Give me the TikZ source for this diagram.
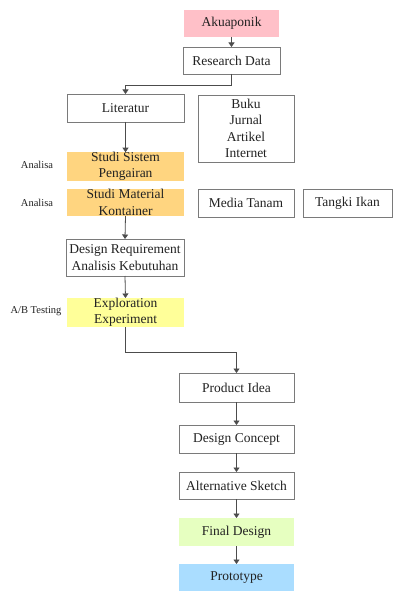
\documentclass[tikz,border=0pt]{standalone}
\usepackage{fontspec}
\setmainfont{Liberation Serif}
\usetikzlibrary{arrows.meta}
\definecolor{cpink}{HTML}{FFC0C8}
\definecolor{corange}{HTML}{FFD580}
\definecolor{cyellow}{HTML}{FFFF99}
\definecolor{cgreen}{HTML}{E6FFC0}
\definecolor{cblue}{HTML}{AADDFF}
\definecolor{cborder}{HTML}{7A7A7A}
\definecolor{ctext}{HTML}{222222}
\begin{document}
\begin{tikzpicture}[x=1pt,y=-1pt,
  base/.style={inner sep=0pt, outer sep=0pt, align=center, text=ctext,
    font=\fontsize{13.5}{16.3}\selectfont},
  wbox/.style={base, draw=cborder, line width=0.9pt, fill=white},
  fbox/.style={base, draw=none},
  lbl/.style={inner sep=0pt, text=ctext, font=\fontsize{10.5}{12}\selectfont},
  arr/.style={draw=black!70, line width=0.8pt, -{Triangle[length=4.5pt,width=6pt]}}
]
\useasboundingbox (0,0) rectangle (393,591);
\fill[white] (0,0) rectangle (393,591);

\node[fbox, fill=cpink, minimum width=95pt, minimum height=27pt] (ak) at (231.5,23.5) {Akuaponik};
\node[wbox, minimum width=97pt, minimum height=27pt] (rd) at (231.5,60.5) {Research Data};
\node[wbox, minimum width=117pt, minimum height=28pt] (lit) at (125.5,108) {Literatur};
\node[wbox, minimum width=96pt, minimum height=67pt] (buku) at (246,128.5) {Buku\\Jurnal\\Artikel\\Internet};
\node[fbox, fill=corange, minimum width=117pt, minimum height=27pt] (ssp) at (125.5,166.5) {Studi Sistem\\Pengairan};
\node[fbox, fill=corange, minimum width=117pt, minimum height=27pt] (smk) at (125.5,202.5) {Studi Material\\Kontainer};
\node[wbox, minimum width=96pt, minimum height=28pt] (mt) at (246,203) {Media Tanam};
\node[wbox, minimum width=89pt, minimum height=28pt] (ti) at (347.5,203) {Tangki Ikan};
\node[wbox, minimum width=118pt, minimum height=37pt] (dr) at (125,257.5) {Design Requirement\\Analisis Kebutuhan};
\node[fbox, fill=cyellow, minimum width=117pt, minimum height=29pt] (ee) at (125.5,312.5) {Exploration\\Experiment};
\node[wbox, minimum width=115pt, minimum height=29pt] (pi) at (236.5,387.5) {Product Idea};
\node[wbox, minimum width=115pt, minimum height=28pt] (dc) at (236.5,439) {Design Concept};
\node[wbox, minimum width=115pt, minimum height=27pt] (as) at (236.5,485.5) {Alternative Sketch};
\node[fbox, fill=cgreen, minimum width=115pt, minimum height=28pt] (fd) at (236.5,532) {Final Design};
\node[fbox, fill=cblue, minimum width=115pt, minimum height=27pt] (pr) at (236.5,577.5) {Prototype};

\node[lbl] (l1) at (37,165) {Analisa};
\node[lbl] (l2) at (37,203) {Analisa};
\node[lbl] (l3) at (36,311) {A/B Testing};

\draw[arr] (ak.south) -- (rd.north);
\draw[arr] (rd.south) -- ++(0,11) -| (lit.north);
\draw[arr] (lit.south) -- (ssp.north);
\draw[arr] (smk.south) -- (dr.north);
\draw[arr] (dr.south) -- (ee.north);
\draw[arr] (ee.south) -- ++(0,25) -| (pi.north);
\draw[arr] (pi.south) -- (dc.north);
\draw[arr] (dc.south) -- (as.north);
\draw[arr] (as.south) -- (fd.north);
\draw[arr] (fd.south) -- (pr.north);
\end{tikzpicture}
\end{document}
